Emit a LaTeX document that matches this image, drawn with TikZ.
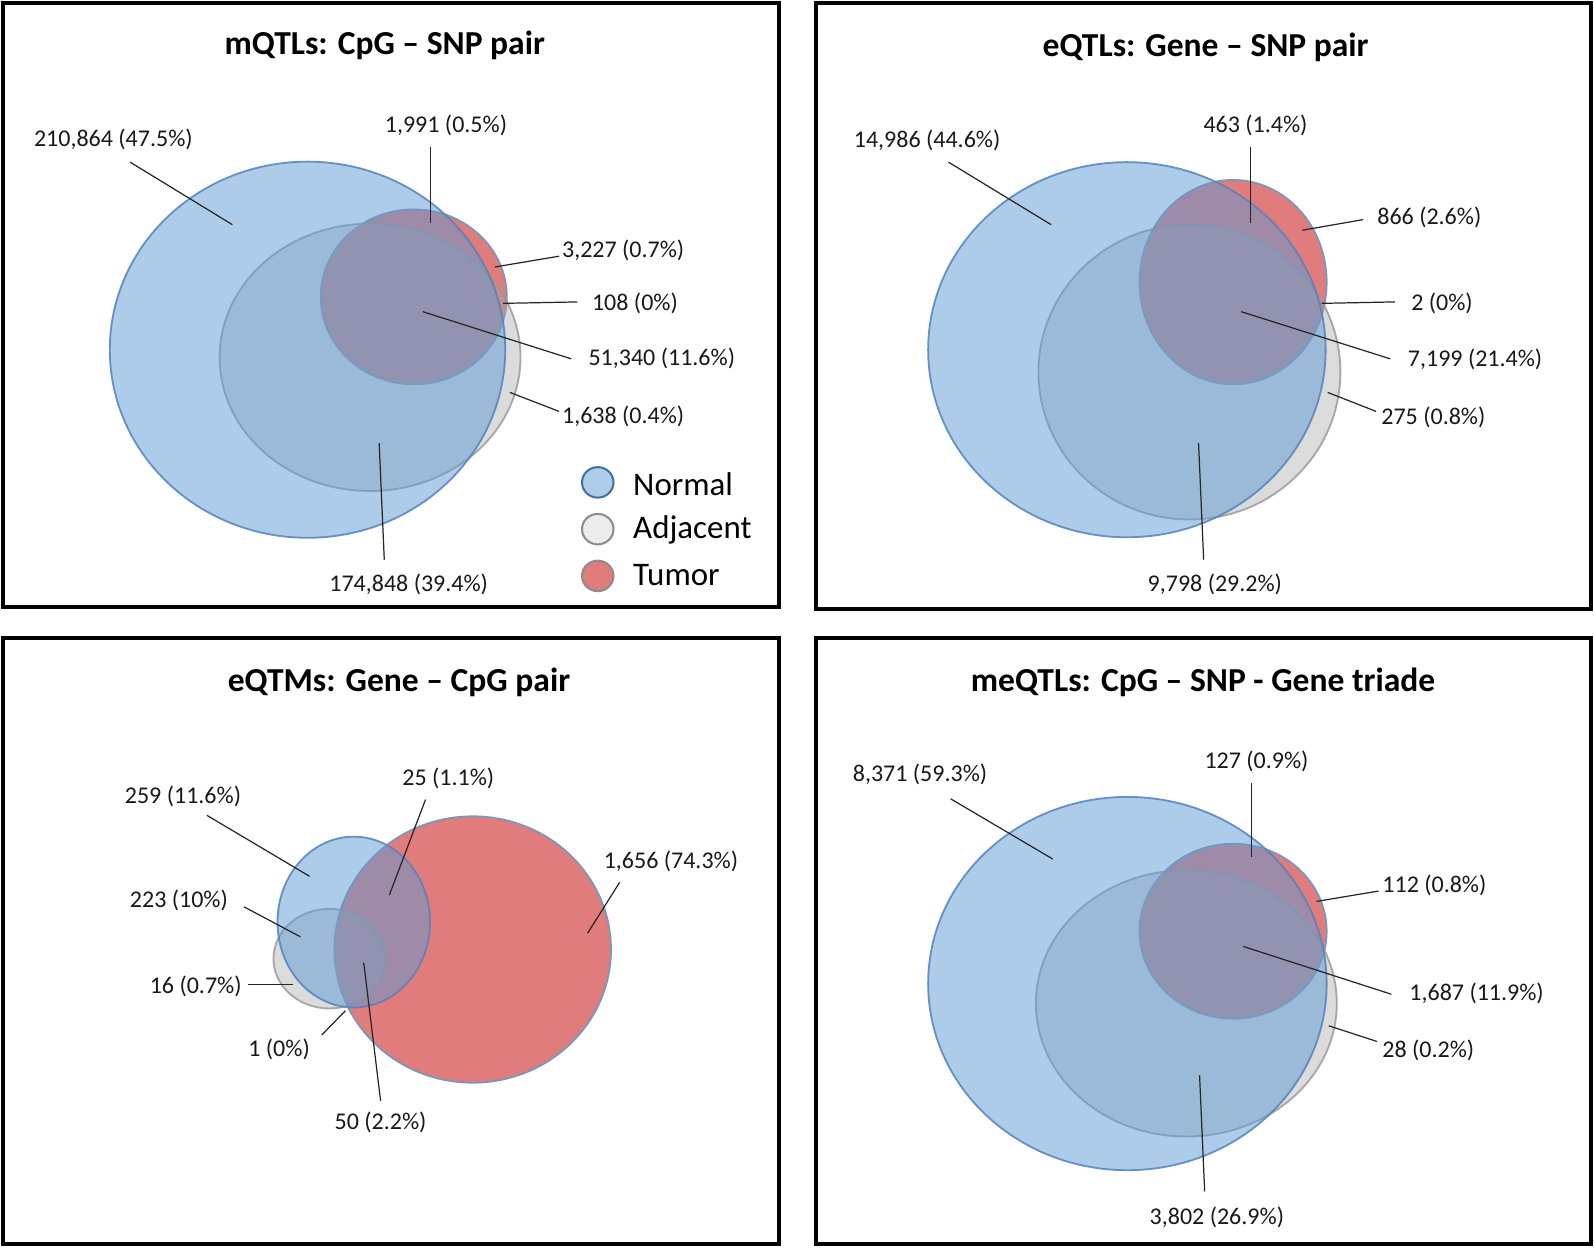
\documentclass[tikz,border=0pt]{standalone}
\usepackage{fontspec}
\setmainfont{Carlito}
\definecolor{nfill}{RGB}{91,155,213}
\definecolor{nline}{RGB}{84,130,190}
\definecolor{afill}{RGB}{165,165,165}
\definecolor{aline}{RGB}{150,150,150}
\definecolor{tfill}{RGB}{224,124,124}
\definecolor{tline}{RGB}{125,150,185}
\definecolor{legN}{RGB}{174,205,235}
\definecolor{legNl}{RGB}{65,113,156}
\definecolor{legA}{RGB}{236,236,236}
\definecolor{legl}{RGB}{140,140,140}
\begin{document}
\begin{tikzpicture}[x=0.5pt,y=-0.5pt,
  normalset/.style={fill=nfill, fill opacity=0.5, draw=nline, draw opacity=0.85, line width=0.9pt},
  adjset/.style={fill=afill, fill opacity=0.4, draw=aline, draw opacity=0.8, line width=0.9pt},
  tumset/.style={fill=tfill, draw=tline, line width=0.9pt},
  lbl/.style={font=\fontsize{11.8}{14}\selectfont, inner sep=0pt, text=black!90},
  ttl/.style={font=\fontsize{16.5}{20}\selectfont\bfseries, inner sep=0pt},
  legtxt/.style={font=\fontsize{16.2}{20}\selectfont, inner sep=0pt, anchor=west},
  lead/.style={line width=0.6pt, draw=black!85},
  panel/.style={line width=2pt, draw=black},
  legc/.style={line width=1pt}]
\useasboundingbox (0,0) rectangle (1568,1227);
\fill[white] (0,0) rectangle (1568,1227);

% ---------------- panel borders
\draw[panel] (3,3) rectangle (766,597);
\draw[panel] (803,3) rectangle (1565,599);
\draw[panel] (3,628) rectangle (766,1224);
\draw[panel] (803,628) rectangle (1565,1224);

% ================= TL: mQTLs
\node[ttl] (tlt) at (378.5,45) {mQTLs: CpG – SNP pair};
\draw[tumset] (407,292) ellipse [x radius=91.5, y radius=86];
\draw[adjset] (364,351.5) ellipse [x radius=148, y radius=131.5];
\draw[normalset] (302.5,344) ellipse [x radius=194.5, y radius=185];

\node[lbl] (tl1) at (111.5,137) {210,864 (47.5\%)};
\node[lbl] (tl2) at (438.7,123.5) {1,991 (0.5\%)};
\node[lbl] (tl3) at (613,246) {3,227 (0.7\%)};
\node[lbl] (tl4) at (624.6,298.4) {108 (0\%)};
\node[lbl] (tl5) at (651,353) {51,340 (11.6\%)};
\node[lbl] (tl6) at (613,409.7) {1,638 (0.4\%)};
\node[lbl] (tl7) at (402,575) {174,848 (39.4\%)};
\coordinate (tl1a) at (128,159.5); \coordinate (tl1b) at (228.6,221);
\coordinate (tl2a) at (423.6,145); \coordinate (tl2b) at (423.6,219);
\coordinate (tl3a) at (550,252); \coordinate (tl3b) at (487,262.6);
\coordinate (tl4a) at (568,297); \coordinate (tl4b) at (495,298.4);
\coordinate (tl5a) at (562,353); \coordinate (tl5b) at (416,306.6);
\coordinate (tl6a) at (550,404.7); \coordinate (tl6b) at (501.5,386);
\coordinate (tl7a) at (378,550.6); \coordinate (tl7b) at (373,435.8);
\foreach \i in {1,...,7} {\draw[lead] (tl\i a) -- (tl\i b);}

% legend
\draw[legc, fill=legN, draw=legNl] (588,474.5) ellipse [x radius=15.5, y radius=15];
\draw[legc, fill=legA, draw=legl] (588,520.5) ellipse [x radius=15.5, y radius=15];
\draw[legc, fill=tfill, draw=legl] (588,566.5) ellipse [x radius=15.5, y radius=15];
\node[legtxt] (legn) at (622.5,476) {Normal};
\node[legtxt] (lega) at (622.5,521) {Adjacent};
\node[legtxt] (legt) at (622.5,566) {Tumor};

% ================= TR: eQTLs
\node[ttl] (trt) at (1186,47) {eQTLs: Gene – SNP pair};
\draw[tumset] (1213,277.5) ellipse [x radius=92, y radius=100.5];
\draw[adjset] (1170,366) ellipse [x radius=148.5, y radius=145];
\draw[normalset] (1108.5,344) ellipse [x radius=195.5, y radius=184.5];

\node[lbl] (tr1) at (912,138) {14,986 (44.6\%)};
\node[lbl] (tr2) at (1235,123.5) {463 (1.4\%)};
\node[lbl] (tr3) at (1406,214) {866 (2.6\%)};
\node[lbl] (tr4) at (1418.5,298.4) {2 (0\%)};
\node[lbl] (tr5) at (1451,354) {7,199 (21.4\%)};
\node[lbl] (tr6) at (1410,410.5) {275 (0.8\%)};
\node[lbl] (tr7) at (1195,575) {9,798 (29.2\%)};
\coordinate (tr1a) at (933,159.5); \coordinate (tr1b) at (1034,221);
\coordinate (tr2a) at (1229.8,145); \coordinate (tr2b) at (1229.8,219);
\coordinate (tr3a) at (1341,216); \coordinate (tr3b) at (1281,226.5);
\coordinate (tr4a) at (1372,297); \coordinate (tr4b) at (1300,298.4);
\coordinate (tr5a) at (1367.6,353); \coordinate (tr5b) at (1221,306.6);
\coordinate (tr6a) at (1353.6,404.7); \coordinate (tr6b) at (1306,386);
\coordinate (tr7a) at (1184,550.6); \coordinate (tr7b) at (1179,435.8);
\foreach \i in {1,...,7} {\draw[lead] (tr\i a) -- (tr\i b);}

% ================= BL: eQTMs
\node[ttl] (blt) at (392.5,671) {eQTMs: Gene – CpG pair};
\draw[tumset] (465,934) ellipse [x radius=136, y radius=131];
\draw[adjset] (324,943) ellipse [x radius=55, y radius=49];
\draw[normalset] (348,907) ellipse [x radius=75, y radius=84];

\node[lbl] (bl1) at (180,783.5) {259 (11.6\%)};
\node[lbl] (bl2) at (441,766) {25 (1.1\%)};
\node[lbl] (bl3) at (660,847) {1,656 (74.3\%)};
\node[lbl] (bl4) at (176,885.5) {223 (10\%)};
\node[lbl] (bl5) at (192.5,970) {16 (0.7\%)};
\node[lbl] (bl6) at (274.5,1032) {1 (0\%)};
\node[lbl] (bl7) at (374.4,1104) {50 (2.2\%)};
\coordinate (bl1a) at (203.5,802); \coordinate (bl1b) at (304.5,862);
\coordinate (bl2a) at (418.6,786.5); \coordinate (bl2b) at (383,880.4);
\coordinate (bl3a) at (609.5,868); \coordinate (bl3b) at (578,918);
\coordinate (bl4a) at (240,892); \coordinate (bl4b) at (295.5,921.5);
\coordinate (bl5a) at (244,968.5); \coordinate (bl5b) at (288,968.5);
\coordinate (bl6a) at (316.6,1018); \coordinate (bl6b) at (339.7,994.3);
\coordinate (bl7a) at (374.4,1083); \coordinate (bl7b) at (357.8,947);
\foreach \i in {1,...,7} {\draw[lead] (bl\i a) -- (bl\i b);}

% ================= BR: meQTLs
\node[ttl] (brt) at (1183.5,671) {meQTLs: CpG – SNP - Gene triade};
\draw[tumset] (1213,916) ellipse [x radius=92, y radius=86];
\draw[adjset] (1167,987) ellipse [x radius=148, y radius=131];
\draw[normalset] (1109,967.5) ellipse [x radius=196, y radius=183.6];

\node[lbl] (br1) at (905,762) {8,371 (59.3\%)};
\node[lbl] (br2) at (1236,748.5) {127 (0.9\%)};
\node[lbl] (br3) at (1411,870.5) {112 (0.8\%)};
\node[lbl] (br4) at (1452.5,977.5) {1,687 (11.9\%)};
\node[lbl] (br5) at (1405,1033) {28 (0.2\%)};
\node[lbl] (br6) at (1197,1198) {3,802 (26.9\%)};
\coordinate (br1a) at (935,785.7); \coordinate (br1b) at (1035.6,845);
\coordinate (br2a) at (1231,770); \coordinate (br2b) at (1231,843);
\coordinate (br3a) at (1356,876.5); \coordinate (br3b) at (1295,886.7);
\coordinate (br4a) at (1368.6,978); \coordinate (br4b) at (1223,931);
\coordinate (br5a) at (1354.6,1024.5); \coordinate (br5b) at (1307,1009);
\coordinate (br6a) at (1185,1172); \coordinate (br6b) at (1180,1057.7);
\foreach \i in {1,...,6} {\draw[lead] (br\i a) -- (br\i b);}
\end{tikzpicture}
\end{document}
